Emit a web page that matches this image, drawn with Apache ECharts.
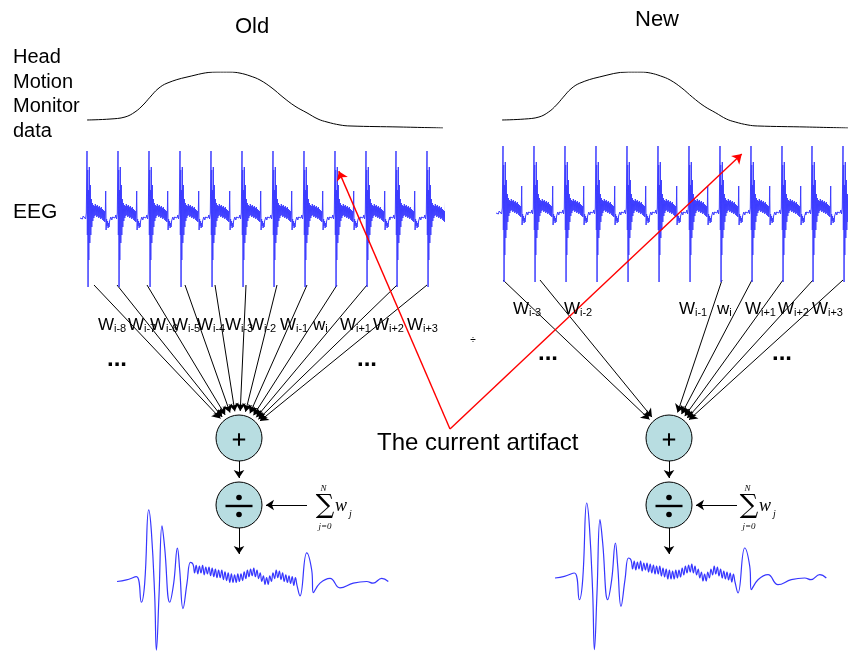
<!DOCTYPE html>
<html><head><meta charset="utf-8">
<script src="https://cdn.jsdelivr.net/npm/echarts@6/dist/echarts.min.js"></script>
<style>html,body{margin:0;padding:0;background:#fff}#c{width:848px;height:658px}</style>
</head><body><div id="c"></div>
<script>
// ================= DATA =================
const panelTitles = ['Old', 'New'];
const sideLabels = ['Head', 'Motion', 'Monitor', 'data'];
const eegLabel = 'EEG';
const artifactLabel = 'The current artifact';

// head motion monitor trace: [sample, normalised displacement]
const headMotion = [[0,0.143],[23,0.16],[38,0.196],[48,0.286],[56,0.41],[63,0.55],[71,0.70],[80,0.80],
  [100,0.91],[130,1.0],[143,1.0],[153,0.98],[163,0.93],[173,0.857],[185,0.714],[196,0.55],[208,0.39],
  [220,0.27],[231,0.16],[240,0.107],[253,0.054],[263,0.036],[313,0.018],[356,0.0]];

// EEG: times of the pulse artifacts and the shape of one artifact [dt, amplitude]
const beatTimes = [8, 39, 70, 101, 132, 163, 194, 225, 256, 287, 317, 348];
const beatShape = [[-7,-3],[-6.2,-5],[-5.4,-2],[-4.6,-4],[-3.8,-1],[-3,-3],[-2.2,0],[-1.4,-4],[-0.7,2],
  [0,64],[0.35,-20],[0.7,45],[1.05,-72],[1.4,25],[1.8,-45],[2.3,48],[2.8,-28],[3.3,30],[3.8,-20],[4.3,16],
  [4.8,-12],[5.3,12],[5.8,-6],[6.3,10],[6.8,-3],[7.3,9],[7.8,-1],[8.3,11],[8.8,0],[9.3,9],[9.8,-2],[10.3,10],
  [10.8,-1],[11.3,8],[11.8,-3],[12.3,9],[12.8,-2],[13.3,7],[13.8,-4],[14.3,8],[14.8,-3],[15.3,6],[15.8,-5],
  [16.3,5],[16.8,-6],[17.3,4],[17.8,-7],[18.3,2],[18.7,24],[19.1,-15],[19.6,-4],[20.1,-11],[20.6,-6],
  [21.1,-13],[21.6,-8],[22.1,-12],[22.6,-6],[23.2,-5],[23.8,-2]];

// averaged artifact template (output): [sample, amplitude]
const outputWave = [[0,0],[9.4,1.7],[19.4,5],[24.4,-21.7],[27.7,-1.7],[31.7,75],[34.4,52],[37.7,-15],
  [39.4,-71.7],[42,-15],[45,58.3],[47.7,35],[52.7,-21.7],[56.7,-1.7],[60.4,35],[62.7,12],[66,-28.3],
  [70,-1.7],[73.4,20],
  [76,18],[77.6,9],[79.2,17],[80.8,8],[82.4,16],[84,9],[85.6,17],[87.2,7],[88.8,15],[90.4,8],[92,15],
  [93.6,6],[95.2,14],[96.8,5],[98.4,13],[100,4],[101.6,12],[103.2,4],[104.8,12],[106.4,2],[108,10],
  [109.6,1],[111.2,9],[112.8,-1],[114.4,8],[116,-1],[117.6,7],[119.2,-1],[120.8,8],[122.4,0],[124,8],
  [125.6,1],[127.2,10],[128.8,3],[130.4,12],[132,5],[133.6,13],[135.2,6],[136.8,14],[138.4,5],[140,12],
  [141.6,3],[143.2,9],[144.8,0],[146.4,6],[148,-3],[149.6,4],[151.2,-3],[152.8,6],[154.4,0],[156,9],
  [157.6,3],[159.2,12],[160.8,4],[162.4,11],[164,2],[165.6,9],[167.2,0],[168.8,7],[170.4,-1],[172,6],
  [173.6,-2],[175.2,5],[176.8,-4],[178.4,4],[180,-4],
  [183,-15],[189.7,30],[194.7,12],[196.3,-11.7],[203,-1.7],[213,3.3],[223,-6.7],[236.3,-1.7],
  [249.7,0],[256,-1.7],[264.7,3.3],[271.3,0]];

// weights: subscripts (lower-case w for the current one)
const weightsOld = ['i-8','i-7','i-6','i-5','i-4','i-3','i-2','i-1','i','i+1','i+2','i+3'];
const weightsNew = ['i-3','i-2','i-1','i','i+1','i+2','i+3'];
// EEG times where the weighted taps are taken
const tapsOld = [15, 38, 68, 106, 136, 167, 198, 228, 258, 288, 318, 348];
const tapsNew = [8, 45, 227, 257, 288, 318, 348];
const tapAmp = -70;
// the current artifact, in EEG coordinates [time, amplitude]
const currentOld = [258, 48];
const currentNew = [250, 59];

// ================= LAYOUT =================
const FONT = '"Liberation Sans", Arial, sans-serif';
const SERIF = '"Liberation Serif", "Times New Roman", serif';
const HUB_R = 23;
const hubs = { oldSum:[239,438], oldDiv:[239,505], newSum:[669,438], newDiv:[669,505] };
const labelXOld = [98,128,150,172,197,225,248,280,313,340,373,407], labelYOld = 325;
const labelXNew = [513,564,679,717,745,778,812], labelYNew = 309;
const vertex = [450, 429];

const eeg = [];
beatTimes.forEach(bt => beatShape.forEach(([dt, a]) => eeg.push([+(bt + dt).toFixed(2), a])));

const chart = echarts.init(document.getElementById('c'), null, {renderer:'canvas'});

const axisBase = {type:'value', show:false, splitLine:{show:false}};
const lineBase = {type:'line', showSymbol:false, symbol:'none', silent:true, emphasis:{disabled:true}, animation:false};

const T = (text, x, y, size, opt = {}) => ({
  type:'text', x, y, z:100, silent:true,
  style:{text, fill:'#000', font:(opt.weight||'normal') + ' ' + size + 'px ' + (opt.family||FONT),
    textAlign:opt.align||'left', align:opt.align||'left', textVerticalAlign:'middle', verticalAlign:'middle'}
});
const TI = (text, x, y, size, align) => ({
  type:'text', x, y, z:100, silent:true,
  style:{text, fill:'#000', font:'italic ' + size + 'px ' + SERIF, textAlign:align||'center', align:align||'center', textVerticalAlign:'middle', verticalAlign:'middle'}
});

const graphics = [];
graphics.push(T(panelTitles[0], 252, 27, 22, {align:'center'}));
graphics.push(T(panelTitles[1], 657, 20, 22, {align:'center'}));
[57.5, 82, 106.5, 131].forEach((y, i) => graphics.push(T(sideLabels[i], 13, y, 20)));
graphics.push(T(eegLabel, 13, 212, 21));
graphics.push(T(artifactLabel, 377, 443, 24));
function weightLabels(list, xs, y) {
  list.forEach((s, i) => {
    const lower = s === 'i';
    graphics.push(T(lower ? 'w' : 'W', xs[i], y, 17));
    graphics.push(T(s, xs[i] + (lower ? 12.3 : 16), y + 4, 11));
  });
}
weightLabels(weightsOld, labelXOld, labelYOld);
weightLabels(weightsNew, labelXNew, labelYNew);
graphics.push(T('...', 107, 359, 24, {weight:'bold'}));
graphics.push(T('...', 357, 359, 24, {weight:'bold'}));
graphics.push(T('...', 538, 353, 24, {weight:'bold'}));
graphics.push(T('...', 772, 353, 24, {weight:'bold'}));
graphics.push(T('\u00f7', 473, 340, 10, {align:'center'}));
function plusGlyph(c) {
  graphics.push({type:'rect', z:100, silent:true, shape:{x:c[0]-6.2, y:c[1]+0.5, width:12.4, height:2}, style:{fill:'#000'}});
  graphics.push({type:'rect', z:100, silent:true, shape:{x:c[0]-1, y:c[1]-4.7, width:2, height:12.4}, style:{fill:'#000'}});
}
function divGlyph(c) {
  graphics.push({type:'rect', z:100, silent:true, shape:{x:c[0]-13.5, y:c[1]-0.2, width:27, height:2.4}, style:{fill:'#000'}});
  graphics.push({type:'circle', z:100, silent:true, shape:{cx:c[0], cy:c[1]-7.5, r:2.8}, style:{fill:'#000'}});
  graphics.push({type:'circle', z:100, silent:true, shape:{cx:c[0], cy:c[1]+9.5, r:2.8}, style:{fill:'#000'}});
}
plusGlyph(hubs.oldSum); plusGlyph(hubs.newSum);
divGlyph(hubs.oldDiv); divGlyph(hubs.newDiv);
function sumFormula(x) {
  graphics.push({type:'text', x:x, y:506, z:100, silent:true, style:{text:'\u2211', fill:'#000', font:'26px "DejaVu Serif", serif', textAlign:'center', align:'center', textVerticalAlign:'middle', verticalAlign:'middle'}});
  graphics.push(TI('N', x - 1.5, 489, 9));
  graphics.push(TI('j=0', x, 527, 9));
  graphics.push(TI('w', x + 16, 506, 18));
  graphics.push(TI('j', x + 25.5, 514, 10));
}
sumFormula(325); sumFormula(749);

const option = {
  animation:false,
  backgroundColor:'#ffffff',
  grid:[
    {left:0, top:0, width:848, height:658},
    {left:87, top:72, width:356, height:56},
    {left:502, top:72, width:356, height:56},
    {left:79, top:150, width:365, height:140},
    {left:495, top:145, width:353, height:140},
    {left:117, top:505, width:272, height:160},
    {left:555, top:498, width:272, height:160}
  ],
  xAxis:[
    Object.assign({gridIndex:0, min:0, max:848}, axisBase),
    Object.assign({gridIndex:1, min:0, max:356}, axisBase),
    Object.assign({gridIndex:2, min:0, max:356}, axisBase),
    Object.assign({gridIndex:3, min:0, max:365}, axisBase),
    Object.assign({gridIndex:4, min:0, max:353}, axisBase),
    Object.assign({gridIndex:5, min:0, max:272}, axisBase),
    Object.assign({gridIndex:6, min:0, max:272}, axisBase)
  ],
  yAxis:[
    Object.assign({gridIndex:0, min:0, max:658, inverse:true}, axisBase),
    Object.assign({gridIndex:1, min:0, max:1}, axisBase),
    Object.assign({gridIndex:2, min:0, max:1}, axisBase),
    Object.assign({gridIndex:3, min:-75, max:65}, axisBase),
    Object.assign({gridIndex:4, min:-75, max:65}, axisBase),
    Object.assign({gridIndex:5, min:-80, max:80}, axisBase),
    Object.assign({gridIndex:6, min:-80, max:80}, axisBase)
  ],
  graphic: graphics,
  series:[
    Object.assign({}, lineBase, {xAxisIndex:1, yAxisIndex:1, data:headMotion, smooth:0.4, lineStyle:{color:'#000', width:1}}),
    Object.assign({}, lineBase, {xAxisIndex:2, yAxisIndex:2, data:headMotion, smooth:0.4, lineStyle:{color:'#000', width:1}}),
    Object.assign({}, lineBase, {xAxisIndex:3, yAxisIndex:3, data:eeg, lineStyle:{color:'#3d3dff', width:1}}),
    Object.assign({}, lineBase, {xAxisIndex:4, yAxisIndex:4, data:eeg, lineStyle:{color:'#3d3dff', width:1}}),
    Object.assign({}, lineBase, {xAxisIndex:5, yAxisIndex:5, data:outputWave, smooth:0.45, lineStyle:{color:'#3636ff', width:1.2}}),
    Object.assign({}, lineBase, {xAxisIndex:6, yAxisIndex:6, data:outputWave, smooth:0.45, lineStyle:{color:'#3636ff', width:1.2}}),
    {id:'arrows', type:'lines', coordinateSystem:'cartesian2d', xAxisIndex:0, yAxisIndex:0, silent:true, z:3,
      symbol:['none','arrow'], symbolSize:8, lineStyle:{color:'#000', width:1, opacity:1, curveness:0}, data:[]},
    {id:'hubs', type:'scatter', xAxisIndex:0, yAxisIndex:0, silent:true, z:4, symbolSize:HUB_R*2,
      itemStyle:{color:'#b8dde1', borderColor:'#000', borderWidth:1, opacity:1},
      data:[hubs.oldSum, hubs.oldDiv, hubs.newSum, hubs.newDiv]},
    {id:'pointer', type:'lines', coordinateSystem:'cartesian2d', xAxisIndex:0, yAxisIndex:0, silent:true, z:6,
      symbol:['none','arrow'], symbolSize:9, lineStyle:{color:'#ff0000', width:1.4, opacity:1, curveness:0}, data:[]}
  ]
};
chart.setOption(option);

// connectors: tap points are located through each panel's axes
const AH = 8;
function tipLine(a, tip, back) {
  const dx = tip[0]-a[0], dy = tip[1]-a[1], d = Math.hypot(dx, dy), k = (d - back) / d;
  return {coords:[a, [a[0]+dx*k, a[1]+dy*k]]};
}
const toHub = (a, hub) => tipLine(a, hub, HUB_R + AH/2);
const arrowData = [];
tapsOld.forEach(t => arrowData.push(toHub(chart.convertToPixel({gridIndex:3}, [t, tapAmp]), hubs.oldSum)));
tapsNew.forEach(t => arrowData.push(toHub(chart.convertToPixel({gridIndex:4}, [t, tapAmp]), hubs.newSum)));
[['oldSum','oldDiv'],['newSum','newDiv']].forEach(([s, d]) => {
  arrowData.push(toHub([hubs[s][0], hubs[s][1] + HUB_R], hubs[d]));
  arrowData.push(tipLine([hubs[d][0], hubs[d][1] + HUB_R], [hubs[d][0], hubs[d][1] + HUB_R + 30], AH/2));
});
arrowData.push(toHub([307, 505], hubs.oldDiv));
arrowData.push(toHub([737, 505], hubs.newDiv));
const pointerData = [
  tipLine(vertex, chart.convertToPixel({gridIndex:3}, currentOld), 4.5),
  tipLine(vertex, chart.convertToPixel({gridIndex:4}, currentNew), 4.5)
];
chart.setOption({series:[{id:'arrows', data:arrowData}, {id:'pointer', data:pointerData}]});
</script>
</body></html>
